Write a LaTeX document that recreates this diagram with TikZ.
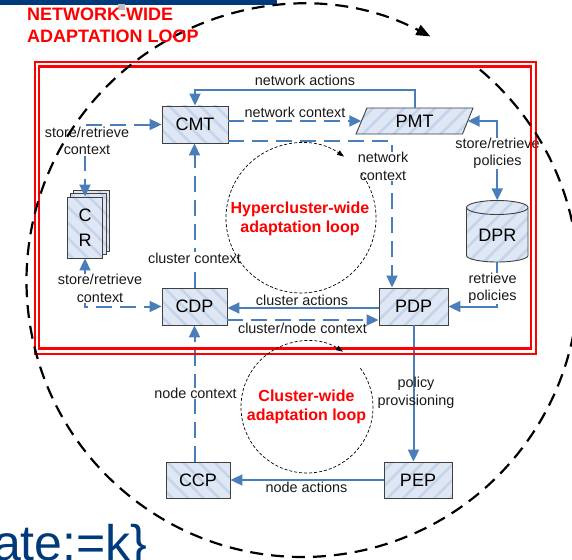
\documentclass[tikz,border=0pt]{standalone}
\usepackage{fontspec}
\setmainfont{Liberation Sans}
\usetikzlibrary{arrows.meta,patterns.meta,calc}

\definecolor{flow}{RGB}{74,126,187}
\definecolor{boxfill}{RGB}{222,231,243}
\definecolor{stripe}{RGB}{196,212,234}
\definecolor{boxline}{RGB}{64,64,64}
\definecolor{slideblue}{RGB}{0,58,122}

\tikzset{
  boxL/.style={preaction={fill=boxfill},
    pattern={Lines[angle=-45,distance=11pt,line width=2.5pt]}, pattern color=stripe,
    draw=boxline, line width=0.9pt, inner sep=0pt,
    font=\fontsize{18}{20}\selectfont},
  boxR/.style={preaction={fill=boxfill},
    pattern={Lines[angle=45,distance=11pt,line width=2.5pt]}, pattern color=stripe,
    draw=boxline, line width=0.9pt, inner sep=0pt,
    font=\fontsize{18}{20}\selectfont},
  boxtext/.style={inner sep=0pt, font=\fontsize{18}{20}\selectfont},
  flowline/.style={draw=flow, line width=2pt},
  flowdash/.style={flowline, dash pattern=on 16pt off 8pt},
  lbl/.style={font=\fontsize{14.4}{17.5}\selectfont, align=center, inner sep=0.5pt, text=black!90},
  lblw/.style={lbl, fill=white},
  loopl/.style={text=red, font=\bfseries\fontsize{16}{19}\selectfont, align=center, inner sep=0pt},
  thinloop/.style={draw=black, line width=0.7pt, dash pattern=on 3pt off 2pt},
  bigloop/.style={draw=black, line width=2.2pt, dash pattern=on 13pt off 8pt},
  frame/.style={draw=red, line width=2.3pt},
  titletext/.style={anchor=base west, inner sep=0pt, text=red, font=\bfseries\fontsize{18}{22}\selectfont}
}

\begin{document}
\begin{tikzpicture}[x=1pt, y=-1pt, >={Triangle[length=12pt,width=11pt]}]
\useasboundingbox (0,0) rectangle (572,559);

% slide remnants around the figure
\fill[slideblue] (0,0) rectangle (277,5);
\fill[black!25] (118,4) rectangle (125,10);
\node[anchor=base west, inner sep=0pt, text=slideblue, font=\fontsize{50}{50}\selectfont]
  (slidetext) at (-7,560) {ate:=k\}};

% context repository: stacked pages
\path[boxL] (73.9,190.4) rectangle (109.3,251.4);
\path[boxL] (70.6,193.7) rectangle (106.0,254.7);
\node[boxL, minimum width=35.4pt, minimum height=61pt, align=center,
      font=\fontsize{18}{25}\selectfont] (CR) at (85,227.5) {C\\R};

% functional blocks
\node[boxL, minimum width=66pt, minimum height=37pt] (CMT) at (195,124.5) {CMT};
\node[boxL, minimum width=65pt, minimum height=37pt] (CDP) at (194.5,306.5) {CDP};
\node[boxR, minimum width=69pt, minimum height=37pt] (PDP) at (413.5,306.5) {PDP};
\node[boxL, minimum width=64pt, minimum height=36pt] (CCP) at (198,480) {CCP};
\node[boxR, minimum width=68pt, minimum height=36pt] (PEP) at (418,480) {PEP};

% policy management tool (parallelogram)
\path[boxR] (356,134) -- (367,108) -- (473,108) -- (462.5,134) -- cycle;
\node[boxtext, minimum width=117pt, minimum height=26pt] (PMT) at (414.5,121) {PMT};

% policy repository (cylinder)
\path[boxR] (466.5,207.5) arc[start angle=180, end angle=360, x radius=30.75, y radius=7]
  -- (528,255.5) arc[start angle=0, end angle=180, x radius=30.75, y radius=6.5] -- cycle;
\draw[boxline, line width=0.9pt] (466.5,207.5)
  arc[start angle=180, end angle=0, x radius=30.75, y radius=7];
\node[inner sep=0pt, minimum width=61.5pt, minimum height=61.5pt] (DPR) at (497.25,231.25) {};
\node[boxtext] (DPRlabel) at (497.25,235) {DPR};

% connectors
\draw[flowline,->] (PMT.north) -- ++(0,-18) -| (CMT.north);
\draw[flowdash,->] (CMT.east |- PMT.west) -- ([xshift=5.5pt]PMT.west);
\draw[flowdash,->] ([yshift=2.5pt]CMT.south east) -| ([xshift=-21.5pt]PDP.north);
\draw[flowdash,->] (CDP.north) -- (CDP.north |- CMT.south);
\draw[flowdash,<->] (CMT.west) -| (CR.north);
\draw[flowdash,<->] (CR.south) |- (CDP.west);
\draw[flowline,->] ([yshift=-1.5pt]PDP.west) -- ([yshift=-1.5pt]CDP.east);
\draw[flowdash,->] ([yshift=-13.5pt]CDP.east) -- ([yshift=-13.5pt]PDP.west);
\draw[flowline,->] (DPR.south) |- (PDP.east);
\draw[flowline,<->] ([xshift=-5.5pt]PMT.east) -| (DPR.north);
\draw[flowline,->] (PDP.south) -- (PDP.south |- PEP.north);
\draw[flowline,->] (PEP.west) -- (CCP.east);
\draw[flowdash,->] (CCP.north -| CDP.south) -- (CDP.south);

% connector labels
\node[lbl]  (lnetact)  at (305,80)      {network actions};
\node[lbl]  (lnetctx)  at (295,112.5)   {network context};
\node[lblw] (lnetctx2) at (383,166.5)   {network\\context};
\node[lblw] (lclctx)   at (194.5,258)   {cluster context};
\node[lblw] (lsrc1)    at (87,141)      {store/retrieve\\context};
\node[lblw] (lsrc2)    at (100,288.5)   {store/retrieve\\context};
\node[lbl]  (lclact)   at (302,300)     {cluster actions};
\node[lbl]  (lcnctx)   at (302.5,328.5) {cluster/node context};
\node[lblw] (lretr)    at (492.5,288.5) {retrieve\\policies};
\node[lblw] (lsrp)     at (497.5,153.5) {store/retrieve\\policies};
\node[lbl]  (lprov)    at (416,393)     {policy\\provisioning};
\node[lblw] (lnodectx) at (195.5,393.3) {node context};
\node[lbl]  (lnodeact) at (306.5,487.5) {node actions};

% network-wide boundary (double red frame)
\draw[frame] (34.7,62) rectangle (536,354);
\draw[frame] (39.3,66.5) rectangle (531,348.5);

% inner adaptation loops
\draw[thinloop, -{Triangle[length=7pt,width=5pt]}] (301,218) ++(-37:75)
  arc[start angle=-37, end angle=305, radius=75];
\draw[thinloop, -{Triangle[length=7pt,width=5pt]}] (307,407) ++(-36:66)
  arc[start angle=-36, end angle=303, radius=66];
\node[loopl] (lhyper) at (300,219) {Hypercluster-wide\\adaptation loop};
\node[loopl] (lclus)  at (306.5,407) {Cluster-wide\\adaptation loop};

% network-wide loop
\draw[bigloop, -{Triangle[length=14pt,width=11pt]}] (302.5,281) ++(-50:276)
  arc[start angle=-50, end angle=297.6, radius=276];
\node[titletext] (title1) at (27,20.5) {NETWORK-WIDE};
\node[titletext] (title2) at (27,42.5) {ADAPTATION LOOP};
\end{tikzpicture}
\end{document}
